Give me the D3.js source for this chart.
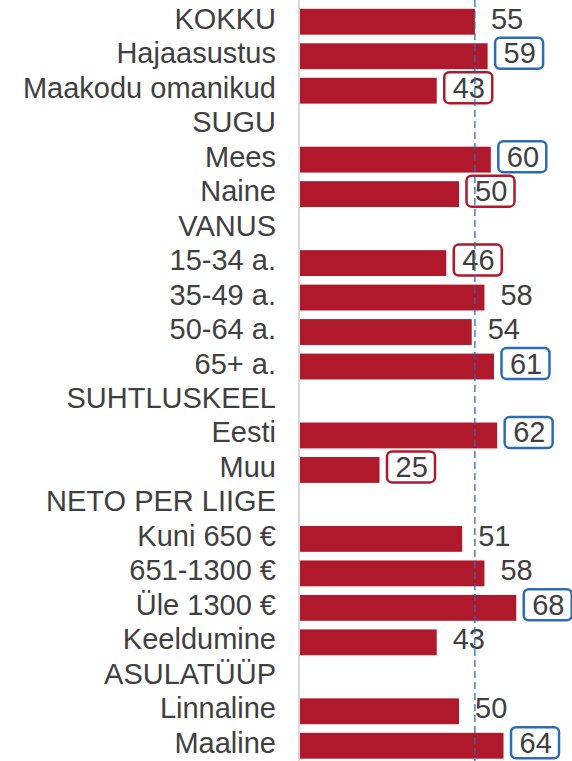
<!DOCTYPE html>
<html>
<head>
<meta charset="utf-8">
<script src="https://cdn.jsdelivr.net/npm/d3@7"></script>
<style>
    body { margin: 0; background: #fff; }
    svg { display: block; }
    text { font-family: "Liberation Sans", Arial, sans-serif; fill: #404040; }
</style>
</head>
<body>
<svg id="chart"></svg>
<script>
// rows top to bottom; null value = section header
const categories = ["KOKKU", "Hajaasustus", "Maakodu omanikud", "SUGU", "Mees", "Naine",
    "VANUS", "15-34 a.", "35-49 a.", "50-64 a.", "65+ a.", "SUHTLUSKEEL", "Eesti", "Muu",
    "NETO PER LIIGE", "Kuni 650 €", "651-1300 €", "Üle 1300 €", "Keeldumine",
    "ASULATÜÜP", "Linnaline", "Maaline"];
const values = [55, 59, 43, null, 60, 50, null, 46, 58, 54, 61, null, 62, 25,
    null, 51, 58, 68, 43, null, 50, 64];
// "up" = blue box, "down" = red box, "" = plain label
const marks = ["", "up", "down", "", "up", "down", "", "down", "", "", "up", "", "up", "down",
    "", "", "", "up", "", "", "", "up"];
const reference = 55;

const width = 572, height = 761;
const barColor = "#b0182b", blue = "#2b6cb5";

const svg = d3.select("#chart").attr("width", width).attr("height", height);

const x = d3.scaleLinear().domain([0, 100]).range([300, 618]);
const y = d3.scaleBand().domain(categories).range([4.5, 763])
    .paddingInner(0.25).paddingOuter(0.125);

const rows = categories.map((c, i) => ({cat: c, value: values[i], mark: marks[i]}));

// left axis line
svg.append("line")
    .attr("x1", 299).attr("x2", 299)
    .attr("y1", 0).attr("y2", height)
    .attr("stroke", "#d9d9d9").attr("stroke-width", 2);

// bars
svg.append("g").selectAll("rect")
    .data(rows.filter(d => d.value != null))
    .join("rect")
    .attr("x", x(0))
    .attr("y", d => y(d.cat))
    .attr("width", d => x(d.value) - x(0))
    .attr("height", y.bandwidth())
    .attr("fill", barColor);

// category labels
svg.append("g").selectAll("text")
    .data(rows)
    .join("text")
    .attr("x", 276)
    .attr("y", d => y(d.cat) + y.bandwidth() / 2 - 3)
    .attr("text-anchor", "end")
    .attr("dominant-baseline", "central")
    .attr("font-size", 29)
    .text(d => d.cat);

// value labels with optional boxes
const vals = svg.append("g").selectAll("g")
    .data(rows.filter(d => d.value != null))
    .join("g")
    .attr("transform", d => `translate(${x(d.value) + 16},${y(d.cat) + y.bandwidth() / 2 - 3})`);

vals.filter(d => d.mark)
    .append("rect")
    .attr("x", -8.5).attr("y", -15.5)
    .attr("width", 48).attr("height", 31)
    .attr("rx", 5)
    .attr("fill", "#fff")
    .attr("stroke", d => d.mark === "up" ? blue : barColor)
    .attr("stroke-width", 2.5);

vals.append("text")
    .attr("dominant-baseline", "central")
    .attr("font-size", 29)
    .text(d => d.value);

// reference line, drawn last: it shows through the boxes
svg.append("line")
    .attr("x1", x(reference)).attr("x2", x(reference))
    .attr("y1", 0).attr("y2", height)
    .attr("stroke", blue).attr("stroke-width", 1.3)
    .attr("stroke-dasharray", "7,4");
</script>
</body>
</html>
